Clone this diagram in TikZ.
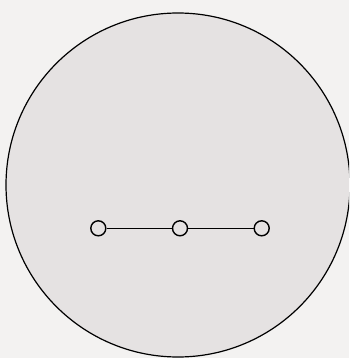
\documentclass[tikz,border=0pt]{standalone}
\definecolor{paper}{RGB}{243,242,241}
\definecolor{disc}{RGB}{229,226,226}
\tikzset{
  site/.style={circle, draw, line width=1.4pt, fill=disc, inner sep=0pt, minimum size=15pt}
}
\begin{document}
\begin{tikzpicture}[x=1pt, y=-1pt]
  \fill[paper] (0,0) rectangle (349,358);
  \useasboundingbox (0,0) rectangle (349,358);
  \begin{scope}
    \clip (0,0) rectangle (349,358);
    \draw[line width=1.2pt, fill=disc] (178,185) circle (172);
  \end{scope}
  \node[site] (a) at (98.3,228.3) {};
  \node[site] (b) at (180,228.3) {};
  \node[site] (c) at (261.7,228.3) {};
  \draw[line width=1.2pt] (a) -- (b) (b) -- (c);
\end{tikzpicture}
\end{document}
